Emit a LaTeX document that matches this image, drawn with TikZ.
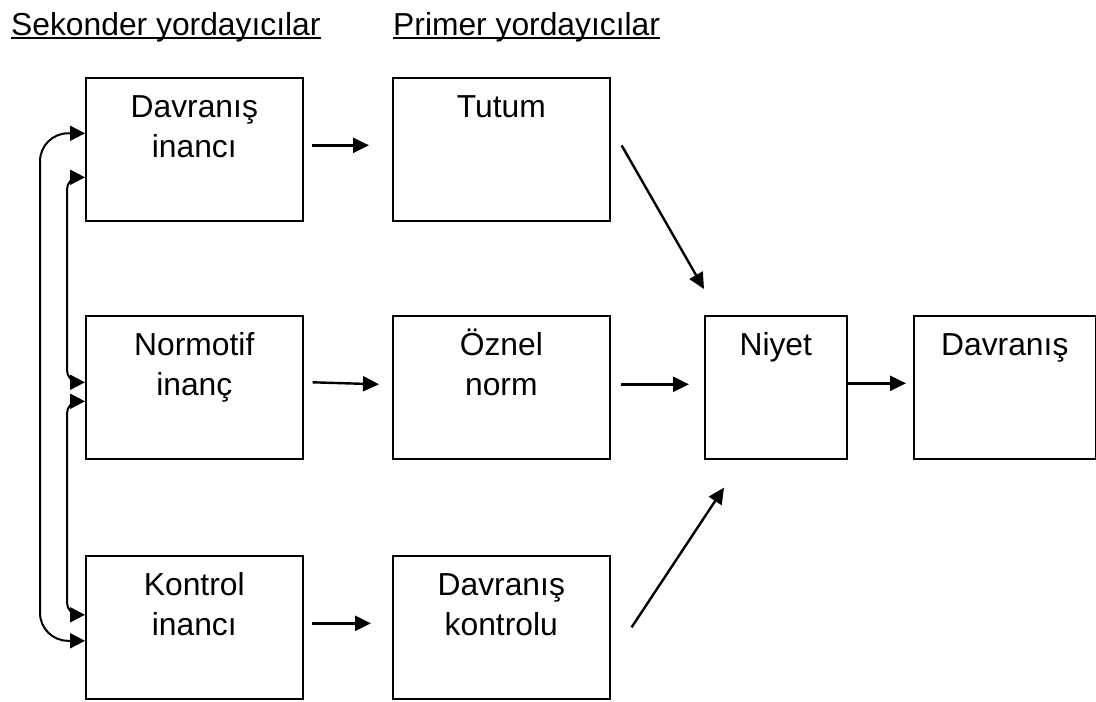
\documentclass[tikz,border=0pt]{standalone}
\usepackage{fontspec}
\setmainfont{Liberation Sans}
\usepackage{tikz}
\usetikzlibrary{arrows.meta,positioning}
\tikzset{
box/.style={draw,line width=1.6pt,minimum width=217pt,minimum height=143pt,anchor=north west,inner sep=0pt},
lbl/.style={anchor=north,align=center,inner sep=0pt,yshift=-12pt,font=\fontsize{31.8}{40}\selectfont},
head/.style={anchor=base west,inner sep=0pt,font=\fontsize{31.8}{40}\selectfont},
arr/.style={line width=2.4pt,-{Triangle[length=16pt,width=15pt]}},
link/.style={line width=2pt,rounded corners=#1,{Triangle[length=15pt,width=15pt]}-{Triangle[length=15pt,width=15pt]}},
link/.default=12pt
}

\begin{document}
\begin{tikzpicture}[x=1pt,y=-1pt]
\useasboundingbox (0,0) rectangle (1096,702);
\node[head] (S) at (11,35) {Sekonder yordayıcılar};
\node[head] (P) at (393,35) {Primer yordayıcılar};
\node[box,label={[lbl,name=DIt]north:{\strut Davranış\\inancı}}] (DI) at (85,77) {};
\node[box,label={[lbl,name=NIt]north:{\strut Normotif\\inanç}}] (NI) at (85,315) {};
\node[box,label={[lbl,name=KIt]north:{\strut Kontrol\\inancı}}] (KI) at (85,555) {};
\node[box,label={[lbl,name=Tt]north:{\strut Tutum}}] (T) at (392,77) {};
\node[box,label={[lbl,name=ONt]north:{\strut Öznel\\norm}}] (ON) at (392,315) {};
\node[box,label={[lbl,name=DKt]north:{\strut Davranış\\kontrolu}}] (DK) at (392,555) {};
\node[box,minimum width=142pt,label={[lbl,name=Nt]north:{\strut Niyet}}] (N) at (704,315) {};
\node[box,minimum width=182pt,label={[lbl,name=Dt]north:{\strut Davranış}}] (D) at (913,315) {};
\draw[line width=2.5pt] ([yshift=-3pt]S.base west) -- ([yshift=-3pt]S.base east);
\draw[line width=2.5pt] ([yshift=-3pt]P.base west) -- ([yshift=-3pt]P.base east);
\draw[arr] ([xshift=8pt,yshift=4pt]DI.east) -- ([xshift=-23pt,yshift=4pt]T.west);
\draw[arr] ([xshift=9pt,yshift=5pt]NI.east) -- ([xshift=-13pt,yshift=3pt]ON.west);
\draw[arr] ([xshift=8pt,yshift=4pt]KI.east) -- ([xshift=-21pt,yshift=4pt]DK.west);
\draw[arr] ([xshift=11pt,yshift=4pt]T.east) -- ([yshift=26pt]N.north west);
\draw[arr] ([xshift=10pt,yshift=3pt]ON.east) -- ([xshift=-15pt,yshift=3pt]N.west);
\draw[arr] ([xshift=21pt]DK.east) -- ([xshift=20pt,yshift=-28pt]N.south west);
\draw[arr] ([yshift=4pt]N.east) -- ([xshift=-7pt,yshift=4pt]D.west);
\draw[link=28pt] ([yshift=16pt]DI.west) -- ++(-45,0) |- ([yshift=-13.5pt]KI.west);
\draw[link] ([yshift=-28pt]DI.west) -- ++(-18,0) |- ([yshift=5pt]NI.west);
\draw[link] ([yshift=-14pt]NI.west) -- ++(-18,0) |- ([yshift=12.5pt]KI.west);
\end{tikzpicture}
\end{document}
